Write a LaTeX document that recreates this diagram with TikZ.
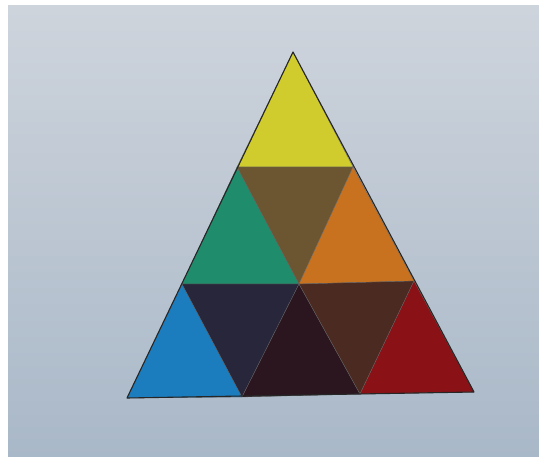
\documentclass[tikz,border=0pt]{standalone}
\begin{document}
\begin{tikzpicture}[x=1pt,y=-1pt,
  tri/.style={draw=black!60,line width=0.3pt,line join=round},
  outline/.style={draw=black!85,line width=1.1pt,line join=round}]
\definecolor{paperTop}{HTML}{CED4DC}
\definecolor{paperMid}{HTML}{C3CCD6}
\definecolor{paperBot}{HTML}{A9B8C8}
\definecolor{cYellow}{HTML}{D0CC2E}
\definecolor{cBrown}{HTML}{6C5631}
\definecolor{cGreen}{HTML}{1F8C6B}
\definecolor{cOrange}{HTML}{C8711F}
\definecolor{cBlue}{HTML}{1B7CBE}
\definecolor{cNavy}{HTML}{28263A}
\definecolor{cDarkest}{HTML}{2B1620}
\definecolor{cDkBrown}{HTML}{4B2B21}
\definecolor{cRed}{HTML}{8A1116}
\useasboundingbox (0,0) rectangle (539,457);
\fill[white] (0,0) rectangle (539,457);
\shade[top color=paperTop,middle color=paperMid,bottom color=paperBot] (8,6) rectangle (539,457);
% vertices
\coordinate (A) at (293,52);
\coordinate (B1) at (237,167);
\coordinate (B2) at (353,167);
\coordinate (C1) at (182,284);
\coordinate (C2) at (299,284);
\coordinate (C3) at (414,281);
\coordinate (D1) at (127,398);
\coordinate (D2) at (242,397);
\coordinate (D3) at (360,394);
\coordinate (D4) at (474,392);
% small triangles
\filldraw[tri,fill=cYellow] (A) -- (B1) -- (B2) -- cycle;
\filldraw[tri,fill=cGreen] (B1) -- (C1) -- (C2) -- cycle;
\filldraw[tri,fill=cBrown] (B1) -- (B2) -- (C2) -- cycle;
\filldraw[tri,fill=cOrange] (B2) -- (C2) -- (C3) -- cycle;
\filldraw[tri,fill=cBlue] (C1) -- (D1) -- (D2) -- cycle;
\filldraw[tri,fill=cNavy] (C1) -- (C2) -- (D2) -- cycle;
\filldraw[tri,fill=cDarkest] (C2) -- (D2) -- (D3) -- cycle;
\filldraw[tri,fill=cDkBrown] (C2) -- (C3) -- (D3) -- cycle;
\filldraw[tri,fill=cRed] (C3) -- (D3) -- (D4) -- cycle;
% outer outline
\draw[outline] (A) -- (D1) -- (D4) -- cycle;
\end{tikzpicture}
\end{document}
